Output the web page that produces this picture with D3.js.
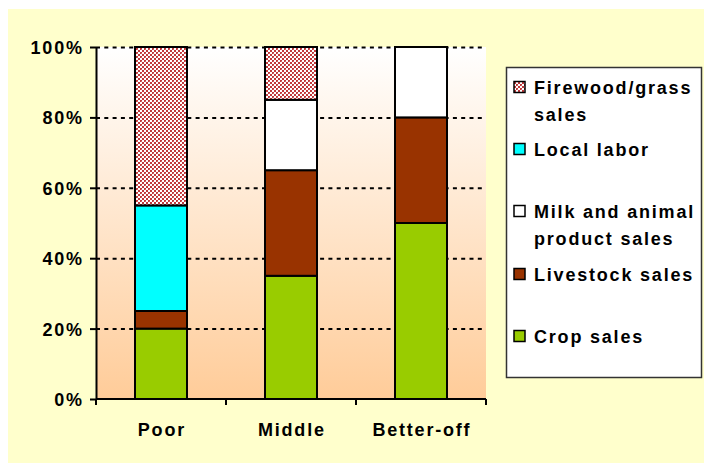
<!DOCTYPE html>
<html><head><meta charset="utf-8">
<script src="https://cdn.jsdelivr.net/npm/d3@7"></script>
<style>html,body{margin:0;padding:0;background:#fff;}svg{display:block;}</style>
</head><body>
<script>
const categories = ["Poor", "Middle", "Better-off"];
const seriesNames = ["Crop sales", "Livestock sales", "Milk and animal product sales", "Local labor", "Firewood/grass sales"];
const cropSales = [20, 35, 50];
const livestockSales = [5, 30, 30];
const milkSales = [0, 20, 20];
const localLabor = [30, 0, 0];
const firewoodSales = [45, 15, 0];
const yTicks = [0, 20, 40, 60, 80, 100];

(function () {
const W = 704, H = 463;
const FONT = "Liberation Sans, Arial, sans-serif";
const FS = 18, LS = 1.8;
const svg = d3.select("body").append("svg").attr("width", W).attr("height", H);
const defs = svg.append("defs");
const grad = defs.append("linearGradient").attr("id", "bg").attr("x1", 0).attr("y1", 0).attr("x2", 0).attr("y2", 1);
grad.append("stop").attr("offset", "0%").attr("stop-color", "#FFFFFF");
grad.append("stop").attr("offset", "100%").attr("stop-color", "#FFCC99");
const pat = defs.append("pattern").attr("id", "fw").attr("width", 4).attr("height", 4).attr("patternUnits", "userSpaceOnUse");
pat.append("rect").attr("width", 4).attr("height", 4).attr("fill", "#FFFFFF");
pat.append("rect").attr("x", 0).attr("y", 0).attr("width", 2).attr("height", 2).attr("fill", "#C0393B");
pat.append("rect").attr("x", 2).attr("y", 2).attr("width", 2).attr("height", 2).attr("fill", "#C0393B");
pat.append("rect").attr("x", 1).attr("y", 1).attr("width", 1).attr("height", 1).attr("fill", "#D06A6A");

const colors = {
  "Crop sales": "#99CC00",
  "Livestock sales": "#993300",
  "Milk and animal product sales": "#FFFFFF",
  "Local labor": "#00FFFF",
  "Firewood/grass sales": "url(#fw)"
};
const values = {
  "Crop sales": cropSales,
  "Livestock sales": livestockSales,
  "Milk and animal product sales": milkSales,
  "Local labor": localLabor,
  "Firewood/grass sales": firewoodSales
};

svg.append("rect").attr("x", 8).attr("y", 9).attr("width", W - 8).attr("height", H - 9).attr("fill", "#FFFFCC");

const pLeft = 96, pRight = 486, pTop = 47, pBottom = 399;
const x = d3.scaleBand().domain(categories).range([pLeft, pRight]).paddingInner(0).paddingOuter(0);
const y = d3.scaleLinear().domain([0, 100]).range([pBottom, pTop]);

svg.append("rect").attr("x", pLeft).attr("y", pTop).attr("width", pRight - pLeft).attr("height", pBottom - pTop).attr("fill", "url(#bg)");

svg.append("g").selectAll("line").data(yTicks.filter(d => d > 0)).join("line")
  .attr("x1", pLeft).attr("x2", pRight)
  .attr("y1", d => y(d) + 0.5).attr("y2", d => y(d) + 0.5)
  .attr("stroke", "#000").attr("stroke-width", 2).attr("stroke-dasharray", "4,4.3");

const table = categories.map((c, i) => {
  const o = {cat: c};
  seriesNames.forEach(s => o[s] = values[s][i]);
  return o;
});
const stack = d3.stack().keys(seriesNames)(table);
const bw = x.bandwidth() * 0.4;
svg.append("g").selectAll("g").data(stack).join("g")
  .attr("fill", d => colors[d.key])
  .selectAll("rect").data(d => d.filter(p => p[1] - p[0] > 0)).join("rect")
  .attr("x", d => x(d.data.cat) + (x.bandwidth() - bw) / 2)
  .attr("width", bw)
  .attr("y", d => y(d[1]))
  .attr("height", d => y(d[0]) - y(d[1]))
  .attr("stroke", "#000").attr("stroke-width", 2);

const yAxis = d3.axisLeft(y).tickValues(yTicks).tickFormat(d => d + "%").tickSize(6).tickSizeOuter(0);
const gy = svg.append("g").attr("transform", `translate(${pLeft},0)`).call(yAxis);
gy.select(".domain").attr("stroke", "#000").attr("stroke-width", 2);
gy.selectAll(".tick line").attr("stroke", "#000").attr("stroke-width", 2);
gy.selectAll(".tick text").attr("x", -14 + LS).attr("dy", "0.36em")
  .attr("font-family", FONT).attr("font-weight", "bold").attr("font-size", FS)
  .attr("letter-spacing", LS).attr("fill", "#000");

const xb = svg.append("g");
xb.append("line").attr("x1", pLeft).attr("x2", pRight).attr("y1", pBottom).attr("y2", pBottom).attr("stroke", "#000").attr("stroke-width", 2);
const xTickPos = categories.map(c => x(c)).concat([x(categories[categories.length - 1]) + x.bandwidth()]);
xb.selectAll("line.t").data(xTickPos).join("line").attr("class", "t")
  .attr("x1", d => d).attr("x2", d => d).attr("y1", pBottom).attr("y2", pBottom + 6)
  .attr("stroke", "#000").attr("stroke-width", 2);
xb.selectAll("text").data(categories).join("text")
  .attr("x", d => x(d) + x.bandwidth() / 2 + LS / 2).attr("y", 436)
  .attr("text-anchor", "middle")
  .attr("font-family", FONT).attr("font-weight", "bold").attr("font-size", FS).attr("letter-spacing", LS)
  .text(d => d);

const lg = svg.append("g");
lg.append("rect").attr("x", 506.5).attr("y", 67.5).attr("width", 195).attr("height", 310)
  .attr("fill", "#FFFFFF").attr("stroke", "#333").attr("stroke-width", 1.5);
const legendItems = [
  {key: "Firewood/grass sales", lines: ["Firewood/grass", "sales"], y: 87},
  {key: "Local labor", lines: ["Local labor"], y: 149},
  {key: "Milk and animal product sales", lines: ["Milk and animal", "product sales"], y: 211},
  {key: "Livestock sales", lines: ["Livestock sales"], y: 274},
  {key: "Crop sales", lines: ["Crop sales"], y: 336}
];
const li = lg.selectAll("g.item").data(legendItems).join("g").attr("class", "item");
li.append("rect").attr("x", 514).attr("y", d => d.y - 5.5).attr("width", 11).attr("height", 11)
  .attr("fill", d => colors[d.key]).attr("stroke", "#000").attr("stroke-width", 1.5);
li.each(function(d) {
  const t = d3.select(this).append("text")
    .attr("font-family", FONT).attr("font-weight", "bold").attr("font-size", FS)
    .attr("letter-spacing", LS).attr("fill", "#000");
  d.lines.forEach((ln, i) => {
    t.append("tspan").attr("x", 534).attr("y", d.y + 6.5 + i * 27).text(ln);
  });
});
})();
</script>
</body></html>
